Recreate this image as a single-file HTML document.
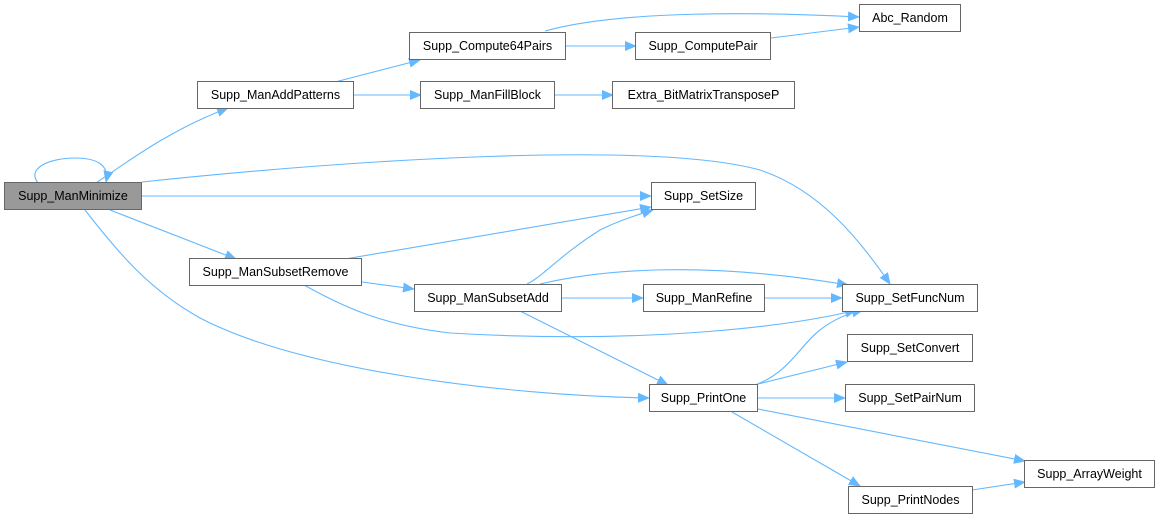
<!DOCTYPE html>
<html><head><meta charset="utf-8"><style>
html,body{margin:0;padding:0;background:#fff;}
svg{display:block;}
text{font-family:"Liberation Sans",Arial,sans-serif;font-size:12.5px;fill:#000;}
</style></head><body>
<svg width="1161" height="519" viewBox="0 0 1161 519" xmlns="http://www.w3.org/2000/svg">
<defs>
<marker id="a" markerWidth="12" markerHeight="10" refX="11" refY="5" orient="auto" markerUnits="userSpaceOnUse">
<path d="M0,0 L12,5 L0,10 z" fill="#63b8ff"/>
</marker>
</defs>
<g fill="none" stroke="#63b8ff" stroke-width="1.1" marker-end="url(#a)">
<path d="M38,183 C26,168 50,158 75,158 C95,158 110,164 106,182"/>
<path d="M96,183 C130,160 170,130 228,108"/>
<path d="M142,182 C350,160 650,140 760,170 C820,190 860,240 890,284"/>
<path d="M142,196 L651,196"/>
<path d="M110,210 L236,259"/>
<path d="M85,210 C120,255 150,290 200,318 C300,370 500,395 649,398"/>
<path d="M335,82 L420,60"/>
<path d="M354,95 L421,95"/>
<path d="M545,31 C620,10 760,12 859,17"/>
<path d="M566,46 L636,46"/>
<path d="M771,38 L859,27"/>
<path d="M555,95 L613,95"/>
<path d="M345,259 L651,207"/>
<path d="M362,282 L414,289"/>
<path d="M304,285 C340,305 380,325 450,333 C650,345 800,325 856,310"/>
<path d="M527,284 C545,275 560,255 600,230 C620,220 640,214 653,210"/>
<path d="M540,284 C600,270 700,260 848,285"/>
<path d="M562,298 L643,298"/>
<path d="M520,311 L668,385"/>
<path d="M765,298 L842,298"/>
<path d="M755,385 C790,372 800,345 820,330 C835,318 850,313 863,310"/>
<path d="M758,384 L847,362"/>
<path d="M758,398 L845,398"/>
<path d="M758,409 L1025,461"/>
<path d="M732,412 L860,486"/>
<path d="M972,490 L1025,482"/>
</g>
<g stroke="#666" stroke-width="1" fill="#fff">
<rect x="4.5" y="182.5" width="137" height="27" fill="#999"/>
<rect x="197.5" y="81.5" width="156" height="27"/>
<rect x="409.5" y="32.5" width="156" height="27"/>
<rect x="635.5" y="32.5" width="135" height="27"/>
<rect x="859.5" y="4.5" width="101" height="27"/>
<rect x="420.5" y="81.5" width="134" height="27"/>
<rect x="612.5" y="81.5" width="182" height="27"/>
<rect x="651.5" y="182.5" width="104" height="27"/>
<rect x="189.5" y="258.5" width="172" height="27"/>
<rect x="414.5" y="284.5" width="147" height="27"/>
<rect x="643.5" y="284.5" width="121" height="27"/>
<rect x="842.5" y="284.5" width="135" height="27"/>
<rect x="847.5" y="334.5" width="125" height="27"/>
<rect x="845.5" y="384.5" width="129" height="27"/>
<rect x="649.5" y="384.5" width="108" height="27"/>
<rect x="1024.5" y="460.5" width="130" height="27"/>
<rect x="848.5" y="486.5" width="124" height="27"/>
</g>
<g text-anchor="middle">
<text x="73" y="200">Supp_ManMinimize</text>
<text x="275.5" y="99">Supp_ManAddPatterns</text>
<text x="487.5" y="50">Supp_Compute64Pairs</text>
<text x="703" y="50">Supp_ComputePair</text>
<text x="910" y="22">Abc_Random</text>
<text x="487.5" y="99">Supp_ManFillBlock</text>
<text x="703.5" y="99">Extra_BitMatrixTransposeP</text>
<text x="703.5" y="200">Supp_SetSize</text>
<text x="275.5" y="276">Supp_ManSubsetRemove</text>
<text x="488" y="302">Supp_ManSubsetAdd</text>
<text x="704" y="302">Supp_ManRefine</text>
<text x="910" y="302">Supp_SetFuncNum</text>
<text x="910" y="352">Supp_SetConvert</text>
<text x="910" y="402">Supp_SetPairNum</text>
<text x="703.5" y="402">Supp_PrintOne</text>
<text x="1089.5" y="478">Supp_ArrayWeight</text>
<text x="910.5" y="504">Supp_PrintNodes</text>
</g>
</svg>
</body></html>
